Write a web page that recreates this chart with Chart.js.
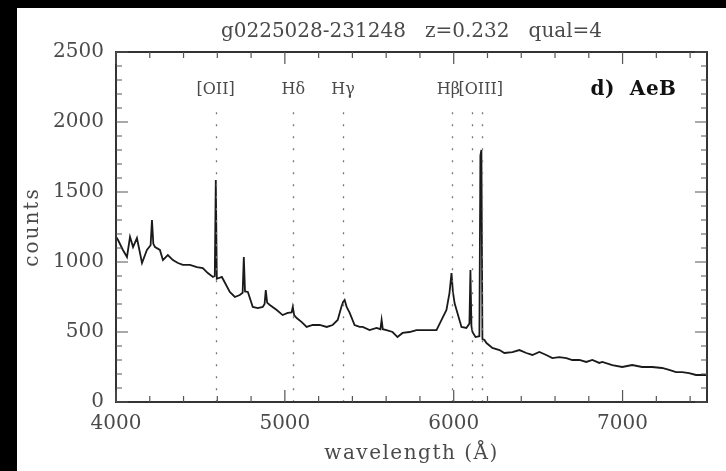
<!DOCTYPE html>
<html>
<head>
<meta charset="utf-8">
<script src="https://cdn.jsdelivr.net/npm/chart.js@4.4.1/dist/chart.umd.min.js"></script>
<style>
  html, body { margin: 0; padding: 0; background: #000; }
  #wrap { width: 726px; height: 471px; }
</style>
</head>
<body>
<div id="wrap"><canvas id="spec" width="726" height="471"></canvas></div>
<script>
// spectrum g0225028-231248, counts vs observed wavelength
const waveAA = [
  4000, 4012, 4041, 4065, 4083, 4101, 4124, 4154, 4183, 4205, 4213, 4221, 4231, 4260,
  4278, 4307, 4337, 4367, 4396, 4438, 4479, 4514, 4544, 4574, 4585, 4591, 4597, 4627,
  4674, 4704, 4733, 4750, 4757, 4764, 4781, 4810, 4840, 4869, 4880, 4887, 4895, 4911,
  4952, 4987, 5017, 5040, 5047, 5055, 5070, 5100, 5129, 5165, 5206, 5248, 5283, 5313,
  5335, 5345, 5354, 5366, 5384, 5413, 5443, 5461, 5502, 5543, 5566, 5573, 5580, 5602,
  5638, 5667, 5697, 5738, 5780, 5815, 5857, 5898, 5928, 5957, 5975, 5987, 5995, 6005,
  6022, 6046, 6075, 6093, 6099, 6105, 6111, 6129, 6152, 6158, 6164, 6170, 6182, 6194,
  6229, 6271, 6300, 6348, 6389, 6430, 6466, 6507, 6548, 6584, 6625, 6667, 6702, 6744,
  6785, 6821, 6862, 6880, 6939, 6998, 7057, 7116, 7175, 7234, 7276, 7317, 7353, 7394,
  7435, 7494
];
const counts = [
  1180, 1157, 1086, 1036, 1180, 1107, 1171, 993, 1086, 1120, 1300, 1130, 1107, 1086,
  1014, 1050, 1014, 993, 979, 979, 964, 957, 921, 893, 900, 1586, 880, 893,
  786, 750, 764, 780, 1036, 790, 786, 679, 671, 679, 700, 800, 710, 693,
  657, 621, 636, 640, 679, 620, 600, 571, 536, 550, 550, 536, 550, 586,
  680, 715, 729, 680, 636, 550, 536, 536, 514, 529, 520, 586, 520, 514,
  500, 464, 493, 500, 514, 514, 514, 514, 586, 657, 780, 921, 790, 707,
  636, 536, 529, 560, 943, 540, 500, 464, 470, 1760, 1800, 450, 443, 421,
  386, 371, 350, 357, 371, 350, 336, 357, 336, 314, 321, 314, 300, 300,
  286, 300, 279, 286, 264, 250, 264, 250, 250, 243, 229, 214, 214, 207,
  193, 193
];

const xTicks = [4000, 5000, 6000, 7000];
const yTicks = [0, 500, 1000, 1500, 2000, 2500];

// marked emission lines
const lineWaves = [4590, 5050, 5345, 5990, 6110, 6168];
const labelText = ['[OII]', 'Hδ', 'Hγ', 'Hβ', '[OIII]'];
const labelWaves = [4590, 5050, 5345, 5968, 6160];

const titleText = 'g0225028-231248   z=0.232   qual=4';
const panelText = 'd)  AeB';
const xTitle = 'wavelength (Å)';
const yTitle = 'counts';

const serif = '"DejaVu Serif", serif';
const ink = '#4a4a4a';

const frame = {
  id: 'frame',
  beforeDraw(chart) {
    const ctx = chart.ctx;
    ctx.save();
    ctx.fillStyle = '#000';
    ctx.fillRect(0, 0, chart.width, chart.height);
    ctx.fillStyle = '#fff';
    ctx.fillRect(17, 8, chart.width - 17, chart.height - 8);
    ctx.restore();
  },
  afterDatasetsDraw(chart) {
    const ctx = chart.ctx;
    const a = chart.chartArea;
    const xs = chart.scales.x, ys = chart.scales.y;
    ctx.save();

    // dotted line markers
    ctx.strokeStyle = '#777';
    ctx.lineWidth = 1.3;
    ctx.setLineDash([2, 10]);
    lineWaves.forEach(w => {
      const px = Math.round(xs.getPixelForValue(w)) + 0.5;
      ctx.beginPath();
      ctx.moveTo(px, ys.getPixelForValue(2070));
      ctx.lineTo(px, a.bottom);
      ctx.stroke();
    });
    ctx.setLineDash([]);

    // box with inward ticks
    ctx.strokeStyle = '#333';
    ctx.lineWidth = 2;
    ctx.strokeRect(a.left, a.top, a.right - a.left, a.bottom - a.top);
    ctx.lineWidth = 1.2;
    ctx.strokeStyle = '#555';
    ctx.beginPath();
    for (let v = xs.min; v <= xs.max; v += 200) {
      const px = xs.getPixelForValue(v);
      const len = v % 1000 === 0 ? 12 : 6;
      ctx.moveTo(px, a.bottom); ctx.lineTo(px, a.bottom - len);
      ctx.moveTo(px, a.top); ctx.lineTo(px, a.top + len);
    }
    for (let v = ys.min; v <= ys.max; v += 100) {
      const py = ys.getPixelForValue(v);
      const len = v % 500 === 0 ? 12 : 6;
      ctx.moveTo(a.left, py); ctx.lineTo(a.left + len, py);
      ctx.moveTo(a.right, py); ctx.lineTo(a.right - len, py);
    }
    ctx.stroke();

    // texts
    ctx.fillStyle = ink;
    ctx.textAlign = 'center';
    ctx.textBaseline = 'middle';
    ctx.font = '16px ' + serif;
    labelText.forEach((t, i) => {
      ctx.fillText(t, xs.getPixelForValue(labelWaves[i]), ys.getPixelForValue(2230));
    });

    ctx.font = '20px ' + serif;
    ctx.fillText(titleText, (a.left + a.right) / 2, 32);

    ctx.letterSpacing = '1.5px';
    ctx.fillText(xTitle, (a.left + a.right) / 2, 454);

    ctx.save();
    ctx.translate(33, (a.top + a.bottom) / 2);
    ctx.rotate(-Math.PI / 2);
    ctx.letterSpacing = '2px';
    ctx.fillText(yTitle, 0, 0);
    ctx.restore();

    ctx.letterSpacing = '0.5px';
    ctx.fillStyle = '#111';
    ctx.font = 'bold 20px ' + serif;
    ctx.textAlign = 'left';
    ctx.fillText(panelText, xs.getPixelForValue(6810), ys.getPixelForValue(2230));
    ctx.restore();
  }
};

new Chart(document.getElementById('spec'), {
  type: 'line',
  data: {
    datasets: [{
      data: waveAA.map((w, i) => ({ x: w, y: counts[i] })),
      borderColor: '#1a1a1a',
      borderWidth: 1.8,
      pointRadius: 0,
      tension: 0,
      fill: false
    }]
  },
  options: {
    responsive: false,
    animation: false,
    layout: { padding: { left: 0, top: 52, right: 19, bottom: 0 } },
    plugins: { legend: { display: false }, tooltip: { enabled: false } },
    scales: {
      x: {
        type: 'linear',
        min: 4000,
        max: 7500,
        grid: { display: false, drawTicks: false },
        border: { display: false },
        afterBuildTicks(scale) { scale.ticks = xTicks.map(v => ({ value: v })); },
        ticks: {
          maxRotation: 0,
          autoSkip: false,
          padding: 10,
          color: ink,
          font: { family: serif, size: 20 },
          callback: v => String(v)
        },
        afterFit(scale) { scale.height = 69; }
      },
      y: {
        min: 0,
        max: 2500,
        grid: { display: false, drawTicks: false },
        border: { display: false },
        afterBuildTicks(scale) { scale.ticks = yTicks.map(v => ({ value: v })); },
        ticks: {
          padding: 12,
          color: ink,
          font: { family: serif, size: 20 },
          callback: v => String(v)
        },
        afterFit(scale) { scale.width = 116; }
      }
    }
  },
  plugins: [frame]
});
</script>
</body>
</html>
